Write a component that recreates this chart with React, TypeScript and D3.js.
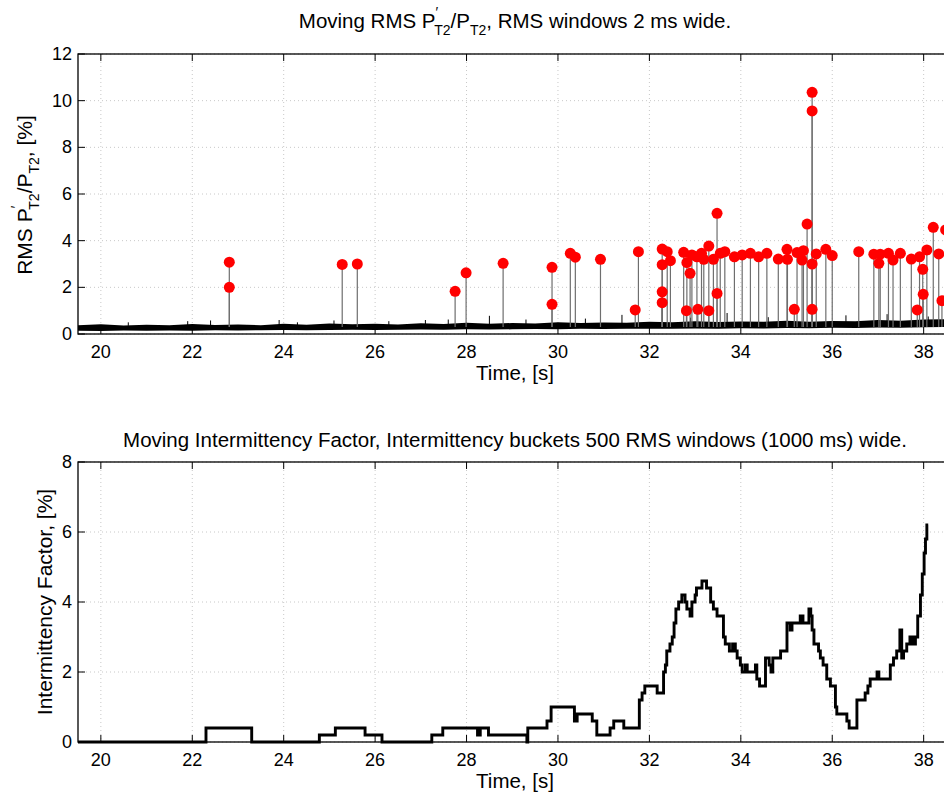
import React, { useEffect, useRef } from 'react';
import * as d3 from 'd3';

// red markers: time [s] and RMS value [%]
const spikeTimes = [
  22.81, 22.81, 25.28, 25.61, 27.75, 27.99, 28.8, 29.87, 29.87, 30.27, 30.38, 30.93,
  31.69, 31.76, 32.28, 32.28, 32.28, 32.28, 32.39, 32.46, 32.75, 32.81, 32.82, 32.89,
  32.93, 33.04, 33.06, 33.14, 33.19, 33.3, 33.3, 33.4, 33.48, 33.48, 33.55, 33.65,
  33.86, 34.03, 34.21, 34.39, 34.57, 34.82, 35.01, 35.02, 35.17, 35.23, 35.34, 35.37,
  35.45, 35.56, 35.56, 35.56, 35.56, 35.65, 35.86, 36.0, 36.58, 36.91, 37.02, 37.05,
  37.23, 37.33, 37.49, 37.73, 37.86, 37.91, 37.98, 37.99, 38.07, 38.21, 38.33, 38.4,
  38.48,
];
const spikeValues = [
  3.08, 2.0, 2.98, 3.0, 1.83, 2.62, 3.03, 2.86, 1.27, 3.46, 3.29, 3.2,
  1.03, 3.53, 3.64, 2.97, 1.81, 1.34, 3.53, 3.14, 3.5, 1.0, 3.06, 2.6,
  3.39, 3.31, 1.06, 3.46, 3.2, 3.77, 1.0, 3.2, 5.17, 1.74, 3.46, 3.53,
  3.31, 3.39, 3.46, 3.31, 3.46, 3.21, 3.63, 3.2, 1.06, 3.49, 3.17, 3.57,
  4.71, 10.36, 9.56, 3.0, 1.06, 3.43, 3.63, 3.36, 3.53, 3.42, 3.03, 3.42,
  3.46, 3.17, 3.46, 3.21, 1.03, 3.31, 2.77, 1.7, 3.6, 4.57, 3.43, 1.43,
  4.46,
];

// noise floor envelope of the moving RMS trace
const floorTimes = [
  19.5, 20, 20.5, 21, 21.5, 22, 22.5, 23, 23.5, 24, 24.5, 25, 25.5, 26, 26.5, 27, 27.5,
  28, 28.5, 29, 29.5, 30, 30.5, 31, 31.5, 32, 32.5, 33, 33.5, 34, 34.5, 35, 35.5, 36,
  36.5, 37, 37.5, 38, 38.62,
];
const floorLow = [
  0.14, 0.13, 0.15, 0.14, 0.15, 0.14, 0.16, 0.15, 0.16, 0.17, 0.16, 0.17, 0.18, 0.17,
  0.18, 0.19, 0.18, 0.2, 0.19, 0.2, 0.21, 0.2, 0.22, 0.21, 0.22, 0.23, 0.22, 0.24, 0.23,
  0.25, 0.24, 0.26, 0.25, 0.27, 0.26, 0.28, 0.27, 0.29, 0.3,
];
const floorHigh = [
  0.38, 0.42, 0.36, 0.4, 0.37, 0.43, 0.39, 0.41, 0.38, 0.44, 0.4, 0.45, 0.42, 0.44, 0.41,
  0.46, 0.43, 0.48, 0.44, 0.47, 0.45, 0.5, 0.47, 0.49, 0.48, 0.52, 0.5, 0.55, 0.51, 0.54,
  0.52, 0.57, 0.53, 0.56, 0.55, 0.6, 0.57, 0.62, 0.64,
];
// small noise peaks sticking out of the floor
const grassTimes = [20.6, 21.9, 22.4, 23.9, 24.3, 25.1, 26.3, 27.1, 27.6, 28.5, 29.3, 30.6, 31.4, 32.9, 33.7, 34.6, 36.3, 37.2, 38.1];
const grassValues = [0.5, 0.55, 0.58, 0.6, 0.5, 0.58, 0.55, 0.6, 0.62, 0.78, 0.62, 0.66, 0.82, 0.7, 0.9, 0.72, 0.8, 0.85, 0.75];

// moving intermittency factor, stepwise
const ifTimes = [
  19.5, 22.3, 23.3, 24.78, 25.13, 25.78, 26.15, 27.24, 27.48, 28.24, 28.3, 28.48, 29.32,
  29.34, 29.76, 29.85, 30.36, 30.42, 30.75, 30.85, 31.14, 31.22, 31.44, 31.78, 31.84,
  31.9, 32.17, 32.31, 32.35, 32.38, 32.45, 32.5, 32.54, 32.58, 32.64, 32.71, 32.78,
  32.82, 32.89, 32.93, 33.0, 33.03, 33.15, 33.25, 33.34, 33.4, 33.48, 33.62, 33.66,
  33.75, 33.82, 33.88, 33.92, 33.99, 34.03, 34.1, 34.14, 34.32, 34.35, 34.41, 34.54,
  34.62, 34.66, 34.7, 34.87, 35.01, 35.08, 35.12, 35.3, 35.36, 35.49, 35.53, 35.56,
  35.6, 35.7, 35.74, 35.8, 35.88, 35.96, 36.07, 36.1, 36.32, 36.37, 36.54, 36.72,
  36.78, 36.83, 36.98, 37.02, 37.27, 37.34, 37.41, 37.48, 37.52, 37.56, 37.63, 37.7,
  37.76, 37.82, 37.87, 37.93, 37.97, 38.01, 38.04, 38.07, 38.1,
];
const ifValues = [
  0, 0.4, 0, 0.2, 0.4, 0.2, 0, 0.2, 0.4, 0.2, 0.4, 0.2, 0,
  0.4, 0.6, 1.0, 0.6, 0.8, 0.6, 0.2, 0.4, 0.6, 0.4, 1.2, 1.4,
  1.6, 1.4, 2.0, 2.2, 2.6, 2.8, 3.0, 3.4, 3.8, 4.0, 4.2, 4.0,
  3.8, 3.6, 4.0, 4.2, 4.4, 4.6, 4.4, 4.0, 3.8, 3.6, 3.0, 2.8,
  2.6, 2.8, 2.6, 2.4, 2.2, 2.0, 2.2, 2.0, 2.2, 1.8, 1.6, 2.4,
  2.2, 2.0, 2.4, 2.6, 3.4, 3.2, 3.4, 3.6, 3.4, 3.8, 3.6, 3.2,
  2.8, 2.6, 2.4, 2.2, 1.8, 1.6, 1.0, 0.8, 0.6, 0.4, 1.2, 1.4,
  1.6, 1.8, 2.0, 1.8, 2.2, 2.4, 2.6, 3.2, 2.4, 2.6, 2.8, 3.0,
  2.8, 3.0, 3.6, 4.2, 4.8, 5.4, 5.8, 6.2, 6.2,
];

const xTicks = [20, 22, 24, 26, 28, 30, 32, 34, 36, 38];
const rmsTicks = [0, 2, 4, 6, 8, 10, 12];
const ifTicks = [0, 2, 4, 6, 8];

const FONT = '"Liberation Sans", Arial, Helvetica, sans-serif';

const App = () => {
  const ref = useRef<SVGSVGElement>(null);

  useEffect(() => {
    const svg = d3.select(ref.current);
    svg.selectAll('*').remove();

    const left = 78;
    const right = 952;
    const x = d3.scaleLinear().domain([19.5, 38.62]).range([left, right]);

    // dotted grid behind the data
    const frame = (y: d3.ScaleLinear<number, number>, yTicks: number[], top: number, bottom: number) => {
      const grid = svg.append('g').attr('stroke', '#c8c8c8').attr('stroke-dasharray', '1,3').attr('stroke-width', 1);
      xTicks.forEach((t) => {
        grid.append('line').attr('x1', x(t)).attr('x2', x(t)).attr('y1', top).attr('y2', bottom);
      });
      yTicks.forEach((t) => {
        grid.append('line').attr('x1', left).attr('x2', right).attr('y1', y(t)).attr('y2', y(t));
      });
    };

    // box, inward ticks and labels on top of the data
    const decorate = (y: d3.ScaleLinear<number, number>, yTicks: number[], top: number, bottom: number) => {
      const g = svg.append('g').attr('stroke', '#000').attr('stroke-width', 1);
      xTicks.forEach((t) => {
        g.append('line').attr('x1', x(t)).attr('x2', x(t)).attr('y1', bottom).attr('y2', bottom - 7);
        g.append('line').attr('x1', x(t)).attr('x2', x(t)).attr('y1', top).attr('y2', top + 7);
      });
      yTicks.forEach((t) => {
        g.append('line').attr('x1', left).attr('x2', left + 7).attr('y1', y(t)).attr('y2', y(t));
        g.append('line').attr('x1', right).attr('x2', right - 7).attr('y1', y(t)).attr('y2', y(t));
      });
      g.append('rect')
        .attr('x', left)
        .attr('y', top)
        .attr('width', right - left)
        .attr('height', bottom - top)
        .attr('fill', 'none')
        .attr('stroke-width', 1.3);

      const labels = svg.append('g').attr('font-family', FONT).attr('font-size', 18).attr('fill', '#000');
      xTicks.forEach((t) => {
        labels.append('text').attr('x', x(t)).attr('y', bottom + 24).attr('text-anchor', 'middle').text(t);
      });
      yTicks.forEach((t) => {
        labels.append('text').attr('x', left - 6).attr('y', y(t) + 6).attr('text-anchor', 'end').text(t);
      });
      labels
        .append('text')
        .attr('x', (left + right) / 2)
        .attr('y', bottom + 46)
        .attr('text-anchor', 'middle')
        .attr('font-size', 20.5)
        .text('Time, [s]');
    };

    // ---- top: moving RMS ----
    const yTop = d3.scaleLinear().domain([0, 12]).range([334, 54]);
    frame(yTop, rmsTicks, 54, 334);

    const floor = floorTimes.map((t, i) => ({ t, lo: floorLow[i], hi: floorHigh[i] }));
    svg
      .append('path')
      .datum(floor)
      .attr('fill', '#000')
      .attr('d', d3.area<any>().x((d) => x(d.t)).y0((d) => yTop(d.lo)).y1((d) => yTop(d.hi)));

    svg
      .append('g')
      .attr('stroke', '#000')
      .attr('stroke-width', 1)
      .selectAll('line')
      .data(grassTimes)
      .enter()
      .append('line')
      .attr('x1', (d) => x(d))
      .attr('x2', (d) => x(d))
      .attr('y1', yTop(0.35))
      .attr('y2', (d, i) => yTop(grassValues[i]));

    svg
      .append('g')
      .attr('stroke', '#6e6e6e')
      .attr('stroke-width', 1.2)
      .selectAll('line')
      .data(spikeTimes)
      .enter()
      .append('line')
      .attr('x1', (d) => x(d))
      .attr('x2', (d) => x(d))
      .attr('y1', yTop(0.3))
      .attr('y2', (d, i) => yTop(spikeValues[i]));

    svg
      .append('g')
      .attr('fill', '#ff0000')
      .selectAll('circle')
      .data(spikeTimes)
      .enter()
      .append('circle')
      .attr('cx', (d) => x(d))
      .attr('cy', (d, i) => yTop(spikeValues[i]))
      .attr('r', 5.5);

    decorate(yTop, rmsTicks, 54, 334);

    // ---- bottom: intermittency factor ----
    const yBot = d3.scaleLinear().domain([0, 8]).range([742, 462]);
    frame(yBot, ifTicks, 462, 742);

    const steps = ifTimes.map((t, i) => ({ t, v: ifValues[i] }));
    svg
      .append('path')
      .datum(steps)
      .attr('fill', 'none')
      .attr('stroke', '#000')
      .attr('stroke-width', 2.9)
      .attr('stroke-linejoin', 'miter')
      .attr(
        'd',
        d3
          .line<any>()
          .x((d) => x(d.t))
          .y((d) => yBot(d.v))
          .curve(d3.curveStepAfter)
      );

    decorate(yBot, ifTicks, 462, 742);

    // ---- titles and y labels ----
    const txt = svg.append('g').attr('font-family', FONT).attr('fill', '#000');

    const t1 = txt.append('text').attr('x', 515).attr('y', 28).attr('text-anchor', 'middle').attr('font-size', 20.5);
    t1.append('tspan').text('Moving RMS P');
    t1.append('tspan').attr('font-size', 14).attr('dy', -11).text('′');
    t1.append('tspan').attr('font-size', 14).attr('dx', -4).attr('dy', 18).text('T2');
    t1.append('tspan').attr('dy', -7).text('/P');
    t1.append('tspan').attr('font-size', 14).attr('dy', 7).text('T2');
    t1.append('tspan').attr('dy', -7).text(', RMS windows 2 ms wide.');

    txt
      .append('text')
      .attr('x', 515)
      .attr('y', 447)
      .attr('text-anchor', 'middle')
      .attr('font-size', 20.5)
      .text('Moving Intermittency Factor, Intermittency buckets 500 RMS windows (1000 ms) wide.');

    const l1 = txt
      .append('text')
      .attr('transform', 'translate(32,195) rotate(-90)')
      .attr('text-anchor', 'middle')
      .attr('font-size', 21);
    l1.append('tspan').text('RMS P');
    l1.append('tspan').attr('font-size', 14).attr('dy', -11).text('′');
    l1.append('tspan').attr('font-size', 14).attr('dx', -4).attr('dy', 18).text('T2');
    l1.append('tspan').attr('dy', -7).text('/P');
    l1.append('tspan').attr('font-size', 14).attr('dy', 7).text('T2');
    l1.append('tspan').attr('dy', -7).text(', [%]');

    txt
      .append('text')
      .attr('transform', 'translate(52,602) rotate(-90)')
      .attr('text-anchor', 'middle')
      .attr('font-size', 21)
      .text('Intermittency Factor, [%]');
  }, []);

  return (
    <svg
      ref={ref}
      width={944}
      height={794}
      style={{ position: 'absolute', left: 0, top: 0, background: '#fff', display: 'block' }}
    ></svg>
  );
};

export default App;
